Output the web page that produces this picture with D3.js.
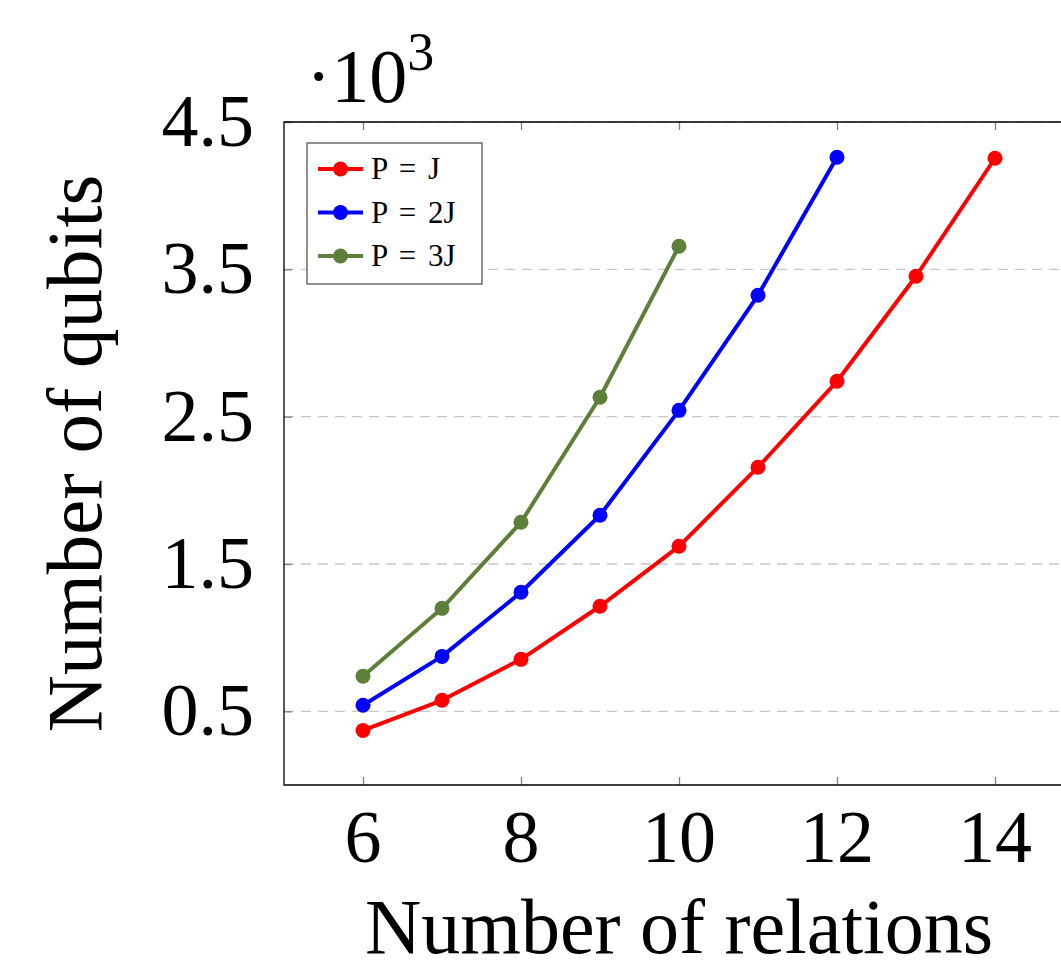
<!DOCTYPE html>
<html>
<head>
<meta charset="utf-8">
<script src="https://cdn.jsdelivr.net/npm/d3@7"></script>
<style>
  body { margin: 0; background: #fff; }
  svg text { font-family: "Liberation Serif", "DejaVu Serif", serif; fill: #000; }
</style>
</head>
<body>
<div id="chart"></div>
<script>
// Data (number of qubits, values in units of 10^3)
var relations = [6, 7, 8, 9, 10, 11, 12, 13, 14];
var qubitsJ = [0.37, 0.575, 0.853, 1.213, 1.62, 2.157, 2.74, 3.453, 4.254];
var qubits2J = [0.541, 0.873, 1.308, 1.831, 2.543, 3.324, 4.261];
var qubits3J = [0.738, 1.199, 1.783, 2.632, 3.657];
var seriesNames = ["P = J", "P = 2J", "P = 3J"];
var seriesColors = ["#ff0000", "#0000ff", "#5d7f3a"];
var xTicks = [6, 8, 10, 12, 14];
var yTicks = [0.5, 1.5, 2.5, 3.5, 4.5];

var svgWidth = 1061;
var svgHeight = 970;

// plot area (right side runs past the window edge)
var plot = { left: 284, top: 122, right: 1074, bottom: 785 };

var svg = d3.select("#chart")
  .append("svg")
  .attr("width", svgWidth)
  .attr("height", svgHeight);

var x = d3.scaleLinear().domain([5, 15]).range([plot.left, plot.right]);
var y = d3.scaleLinear().domain([0, 4.5]).range([plot.bottom, plot.top]);

// dashed grid lines
svg.append("g")
  .selectAll("line")
  .data(yTicks)
  .enter().append("line")
  .attr("x1", plot.left)
  .attr("x2", plot.right)
  .attr("y1", d => y(d))
  .attr("y2", d => y(d))
  .attr("stroke", "#c8c8c8")
  .attr("stroke-width", 1.3)
  .attr("stroke-dasharray", "10,7");

// axes: ticks inward, labels drawn separately
var bottomAxis = d3.axisBottom(x).tickValues(xTicks).tickSize(-8).tickFormat("");
var topAxis = d3.axisTop(x).tickValues(xTicks).tickSize(-8).tickFormat("");
var leftAxis = d3.axisLeft(y).tickValues(yTicks).tickSize(-8).tickFormat("");

function styleAxis(g) {
  g.select(".domain").remove();
  g.selectAll(".tick line").attr("stroke", "#808080").attr("stroke-width", 1.3);
}

svg.append("g").attr("transform", `translate(0, ${plot.bottom})`).call(bottomAxis).call(styleAxis);
svg.append("g").attr("transform", `translate(0, ${plot.top})`).call(topAxis).call(styleAxis);
svg.append("g").attr("transform", `translate(${plot.left}, 0)`).call(leftAxis).call(styleAxis);

// frame
svg.append("path")
  .attr("d", `M${plot.right},${plot.top} H${plot.left} V${plot.bottom} H${plot.right}`)
  .attr("fill", "none")
  .attr("stroke", "#000")
  .attr("stroke-width", 1.3);

// tick labels
svg.append("g")
  .selectAll("text")
  .data(xTicks)
  .enter().append("text")
  .attr("x", d => x(d))
  .attr("y", 862)
  .attr("text-anchor", "middle")
  .attr("font-size", "74px")
  .text(d => d);

svg.append("g")
  .selectAll("text")
  .data(yTicks)
  .enter().append("text")
  .attr("x", 254)
  .attr("y", d => y(d) + 24)
  .attr("text-anchor", "end")
  .attr("font-size", "74px")
  .text(d => d.toFixed(1));

// scale factor
var mult = svg.append("text")
  .attr("x", 306)
  .attr("y", 102)
  .attr("font-size", "76px");
mult.append("tspan").text("\u00b710");
mult.append("tspan").attr("dy", -32).attr("font-size", "54px").text("3");

// axis titles
svg.append("text")
  .attr("x", (plot.left + plot.right) / 2)
  .attr("y", 953)
  .attr("text-anchor", "middle")
  .attr("font-size", "78px")
  .text("Number of relations");

svg.append("text")
  .attr("transform", `translate(101, ${(plot.top + plot.bottom) / 2}) rotate(-90)`)
  .attr("text-anchor", "middle")
  .attr("font-size", "79px")
  .text("Number of qubits");

// series
var allSeries = [qubitsJ, qubits2J, qubits3J];
var line = d3.line()
  .x((d, i) => x(relations[i]))
  .y(d => y(d));

allSeries.forEach((vals, k) => {
  var g = svg.append("g");
  g.append("path")
    .datum(vals)
    .attr("d", line)
    .attr("fill", "none")
    .attr("stroke", seriesColors[k])
    .attr("stroke-width", 4)
    .attr("stroke-linejoin", "round");
  g.selectAll("circle")
    .data(vals)
    .enter().append("circle")
    .attr("cx", (d, i) => x(relations[i]))
    .attr("cy", d => y(d))
    .attr("r", 7.5)
    .attr("fill", seriesColors[k]);
});

// legend
var legend = svg.append("g").attr("transform", "translate(307, 143)");
legend.append("rect")
  .attr("width", 175)
  .attr("height", 141)
  .attr("fill", "#fff")
  .attr("stroke", "#555")
  .attr("stroke-width", 1.3);

seriesNames.forEach((name, k) => {
  var ly = 26 + k * 43.5;
  legend.append("line")
    .attr("x1", 11).attr("x2", 56)
    .attr("y1", ly).attr("y2", ly)
    .attr("stroke", seriesColors[k])
    .attr("stroke-width", 4);
  legend.append("circle")
    .attr("cx", 33.5).attr("cy", ly).attr("r", 7.5)
    .attr("fill", seriesColors[k]);
  legend.append("text")
    .attr("x", 64)
    .attr("y", ly + 10)
    .attr("font-size", "31px")
    .attr("word-spacing", "4px")
    .text(name);
});
</script>
</body>
</html>
